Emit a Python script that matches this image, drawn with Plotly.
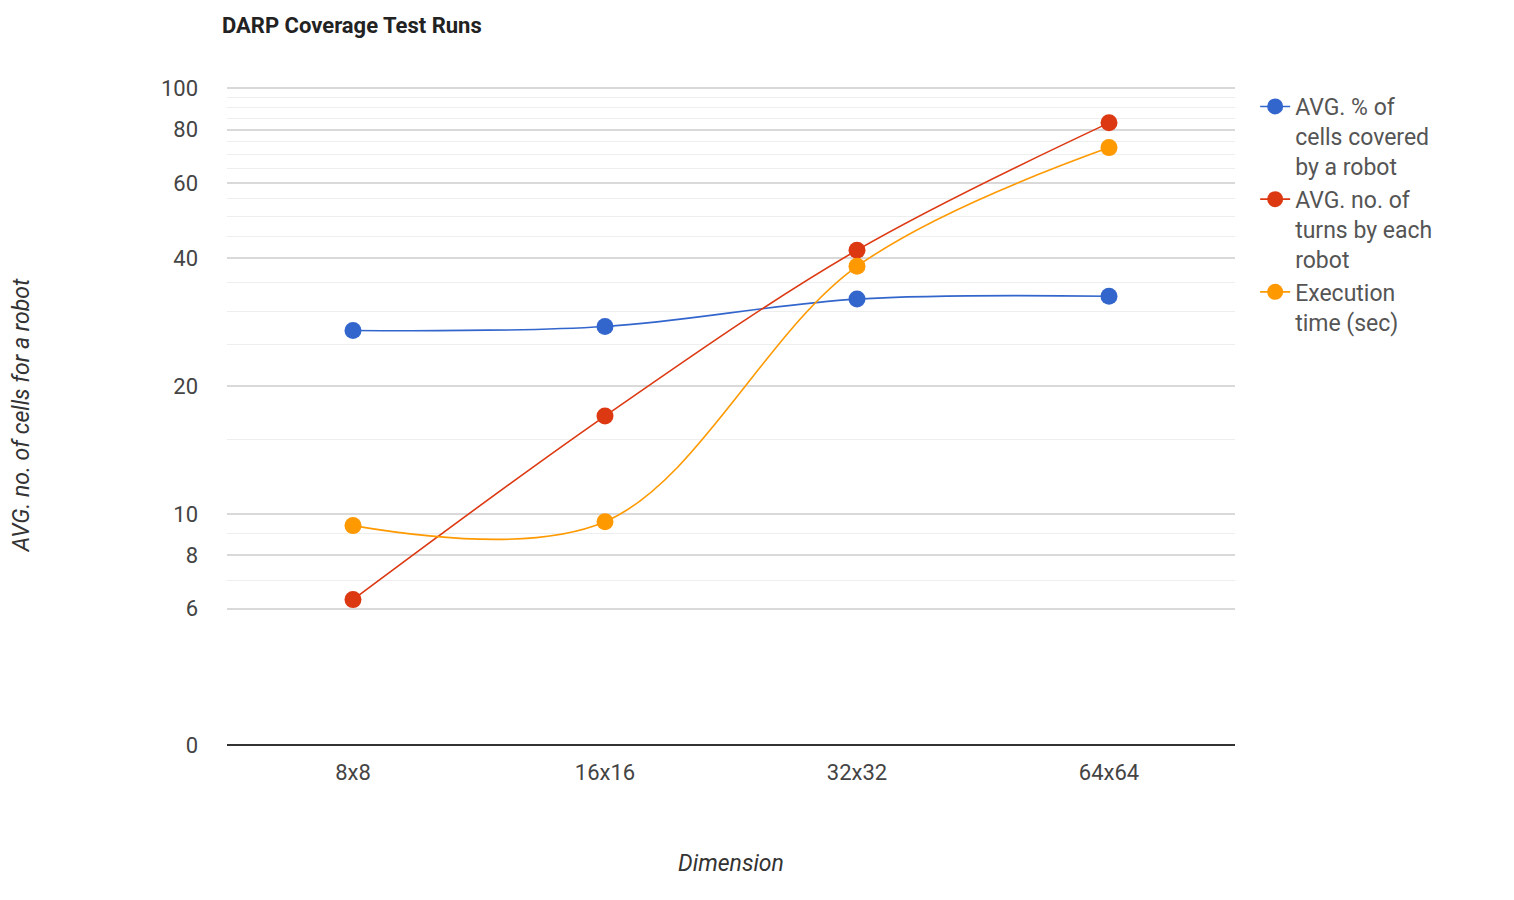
import plotly.graph_objects as go
import math

categories = ["8x8", "16x16", "32x32", "64x64"]
avg_pct = [27.0, 27.6, 32.0, 32.5]
avg_turns = [6.3, 17.0, 41.7, 83.0]
exec_time = [9.4, 9.6, 38.2, 72.6]
names = ["AVG. % of<br>cells covered<br>by a robot", "AVG. no. of<br>turns by each<br>robot", "Execution<br>time (sec)"]
colors = ["#3366cc", "#dc3912", "#ff9900"]
tick_vals = [2.87, 6, 8, 10, 20, 40, 60, 80, 100]
tick_text = ["0", "6", "8", "10", "20", "40", "60", "80", "100"]
minor_vals = [7, 9, 15, 25, 30, 35, 45, 50, 55, 65, 70, 75, 85, 90, 95]

fig = go.Figure()
for vals, n, c in zip([avg_pct, avg_turns, exec_time], names, colors):
    fig.add_trace(go.Scatter(x=categories, y=vals, name=n, mode="lines+markers",
                             line=dict(color=c, width=1.6, shape="spline", smoothing=1),
                             marker=dict(color=c, size=17)))

fig.update_layout(
    width=1514, height=900, plot_bgcolor="white", paper_bgcolor="white",
    font=dict(family="Roboto, Arial, sans-serif", size=22, color="#444"),
    margin=dict(l=214, r=287, t=77, b=163),
    title=dict(text="<b>DARP Coverage Test Runs</b>", x=214/1514, xanchor="left",
               y=1-17/900, yanchor="middle", font=dict(size=22, color="#222")),
    legend=dict(x=1.02, xanchor="left", y=1.0, yanchor="top", font=dict(size=23, color="#555"),
                tracegroupgap=22, valign="top"),
    xaxis=dict(range=[-0.5, 3.5], showgrid=False, showline=False, ticks="", ticklabelstandoff=12,
               title=dict(text="<i>Dimension</i>", font=dict(size=23, color="#333"), standoff=70)),
    yaxis=dict(type="log", range=[math.log10(2.87), 2.008], tickvals=tick_vals, ticktext=tick_text,
               gridcolor="#d9d9d9", gridwidth=2, zeroline=False, ticks="", showline=False,
               ticklabelstandoff=28,
               minor=dict(tickvals=minor_vals, showgrid=True, gridcolor="#eeeeee", gridwidth=1),
               title=dict(text="<i>AVG. no. of cells for a robot</i>", font=dict(size=23, color="#333"), standoff=125)),
)
fig.add_shape(type="line", xref="paper", yref="paper", x0=0, x1=1, y0=0, y1=0,
              line=dict(color="#333", width=2))
fig.write_html("out.html")
